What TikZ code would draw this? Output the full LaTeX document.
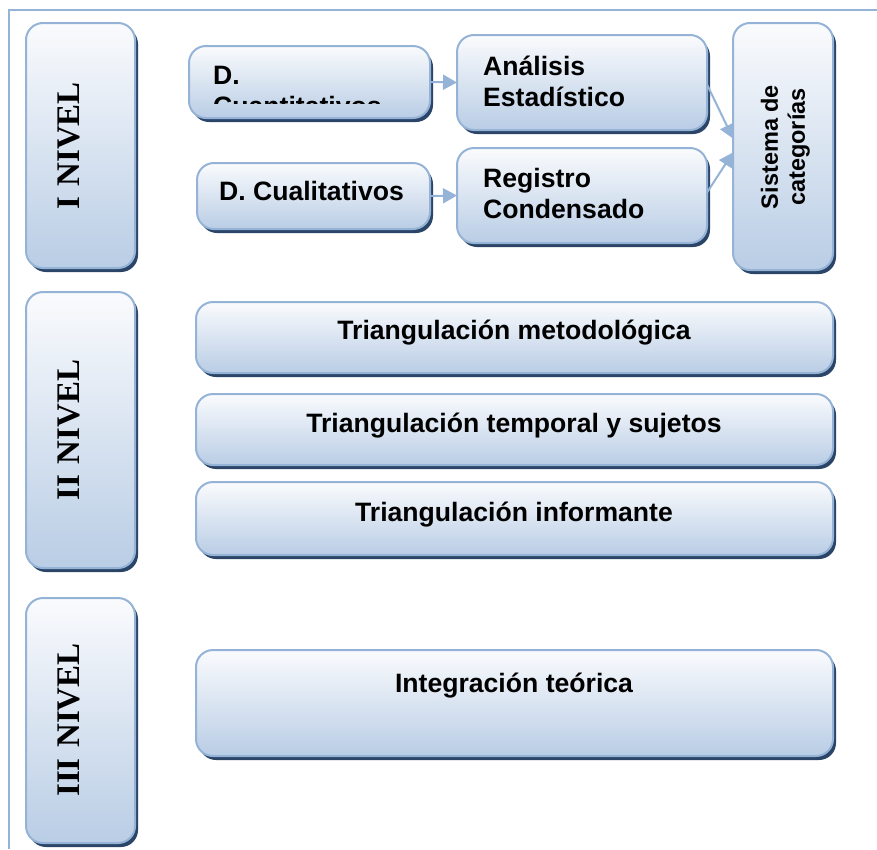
\documentclass[tikz,border=0pt]{standalone}
\usepackage{fontspec}
\setmainfont{Liberation Sans}
\newfontfamily\levelfont{Liberation Serif}
\usetikzlibrary{shadows,arrows.meta}

\definecolor{edgeblue}{HTML}{95B3D7}
\definecolor{topfill}{HTML}{FAFBFD}
\definecolor{botfill}{HTML}{B9CDE5}
\definecolor{shadowblue}{HTML}{2A4568}

\tikzset{
  panel/.style={draw=edgeblue, line width=2pt, rounded corners=17pt,
    top color=topfill, bottom color=botfill,
    general shadow={fill=shadowblue, shadow xshift=3pt, shadow yshift=-4pt},
    inner sep=0pt, outer sep=0pt},
  sz/.style 2 args={minimum width=#1pt, minimum height=#2pt},
  lbl/.style={font=\fontsize{26.6}{31}\selectfont\bfseries, inner sep=0pt, text=black},
  sislbl/.style={font=\fontsize{23.5}{27}\selectfont\bfseries, inner sep=0pt, text=black},
  levellbl/.style={font=\levelfont\fontsize{33}{40}\selectfont\bfseries, inner sep=0pt, text=black},
  link/.style={draw=edgeblue, line width=2pt, -{Triangle[length=14pt,width=15pt]}},
  frameline/.style={draw=edgeblue, line width=2pt},
}

\begin{document}
\begin{tikzpicture}[x=1pt,y=-1pt]
\useasboundingbox (0,0) rectangle (877,849);

% outer frame (top and left edges)
\draw[frameline] (9,849) -- (9,10) -- (877,10);

% level columns
\node[panel, sz={109}{245}] (lev1) at (80.5,145.5) {};
\node[panel, sz={109}{276}] (lev2) at (80.5,430) {};
\node[panel, sz={109}{245}] (lev3) at (80.5,720.5) {};
\node[levellbl] (lev1txt) at (69,146) {\rotatebox{90}{I\hspace{0.32em}NIVEL}};
\node[levellbl] (lev2txt) at (69,430) {\rotatebox{90}{II\hspace{0.32em}NIVEL}};
\node[levellbl] (lev3txt) at (69,720) {\rotatebox{90}{III\hspace{0.32em}NIVEL}};

% level I
\node[panel, sz={241}{72}] (cuant) at (309.5,82) {};
\node[panel, sz={233}{66}] (cual) at (313.5,196) {};
\node[panel, sz={250}{95}] (ana) at (582,82.5) {};
\node[panel, sz={250}{95}] (reg) at (582,195.5) {};
\node[panel, sz={100}{247}] (sis) at (783,146.5) {};

\begin{scope}
  \clip (190,47) rectangle (429,103.5);
  \node[lbl, anchor=base west] (cuanttxt) at (213,84)
    {\begin{tabular}[t]{@{}l@{}}D.\\Cuantitativos\end{tabular}};
\end{scope}
\node[lbl, anchor=base] (cualtxt) at (311.5,200) {D. Cualitativos};
\node[lbl, anchor=base west] (anatxt) at (483,75)
  {\begin{tabular}[t]{@{}l@{}}Análisis\\Estadístico\end{tabular}};
\node[lbl, anchor=base west] (regtxt) at (483,187)
  {\begin{tabular}[t]{@{}l@{}}Registro\\Condensado\end{tabular}};
\node[sislbl] (sistxt) at (786,147)
  {\rotatebox{90}{\begin{tabular}{@{}c@{}}Sistema de\\categorías\end{tabular}}};

\draw[link] (cuant.east) -- (ana.west);
\draw[link] (cual.east) -- (reg.west);
\draw[link] ([yshift=-2pt]ana.east) -- ([yshift=8pt]sis.west);
\draw[link] ([yshift=3pt]reg.east) -- ([yshift=-6pt]sis.west);

% level II
\node[panel, sz={637}{71}] (tri1) at (514.5,337.5) {};
\node[panel, sz={637}{71}] (tri2) at (514.5,429.5) {};
\node[panel, sz={637}{73}] (tri3) at (514.5,518.5) {};
\node[lbl, anchor=base] (tri1txt) at (514,339) {Triangulación metodológica};
\node[lbl, anchor=base] (tri2txt) at (514,432) {Triangulación temporal y sujetos};
\node[lbl, anchor=base] (tri3txt) at (514,521) {Triangulación informante};

% level III
\node[panel, sz={637}{106}] (integ) at (514.5,703) {};
\node[lbl, anchor=base] (integtxt) at (514,692) {Integración teórica};
\end{tikzpicture}
\end{document}
